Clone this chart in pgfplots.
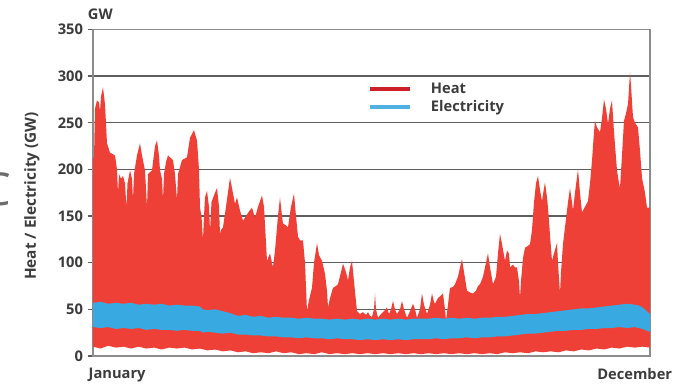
\documentclass[border=0pt]{standalone}
\usepackage{pgfplots}
\pgfplotsset{compat=1.18}
\usepackage{pgfplotstable}
\usepgfplotslibrary{fillbetween}
\usepackage{fontspec}
\setmainfont{Open Sans}
\definecolor{heat}{RGB}{238,64,54}
\definecolor{heatdark}{RGB}{205,32,40}
\definecolor{elec}{RGB}{57,170,225}
\definecolor{elecleg}{RGB}{80,178,226}
\definecolor{txt}{RGB}{60,60,60}
\definecolor{gridc}{RGB}{95,95,95}
\definecolor{axc}{RGB}{140,140,140}

\pgfplotstableread{
day val
0 212
0.66 213
1.31 265
2.62 274
3.93 272
4.59 262
5.24 278
6.55 288
7.86 270
9.17 228
11.14 218
14.42 215
15.73 200
16.38 174
17.04 195
18.35 190
19.66 193
20.97 185
21.95 159
22.61 185
24.25 199
25.56 190
26.21 167
26.87 195
28.83 215
30.80 228
32.11 215
34.08 199
35.39 159
36.04 195
38.66 199
40.63 225
41.94 231
43.25 215
43.91 199
45.22 190
45.87 167
46.53 195
47.84 208
49.15 215
51.11 212
52.42 210
53.73 195
55.05 167
55.70 195
58.32 210
61.60 213
63.56 234
66.19 242
68.15 231
69.46 200
70.12 159
71.10 150
72.08 124
72.74 150
73.39 170
74.70 177
76.01 160
76.67 134
77.65 165
79.95 175
81.26 180
82.57 160
83.22 131
83.88 135
85.19 138
87.15 160
89.78 191
91.09 180
93.05 163
94.36 170
96.33 156
98.30 145
100.26 150
102.23 155
104.19 159
106.16 148
108.12 160
110.75 172
112.06 160
114.02 102
115.99 110
117.95 95
119.26 113
121.23 150
122.54 170
123.85 150
124.51 142
126.47 140
127.78 138
129.75 160
131.72 174
133.03 150
134.34 128
135.65 124
137.61 124
138.92 100
140.23 48
141.55 60
143.51 73
144.82 100
146.79 121
148.10 108
150.06 102
152.03 88
153.34 70
154.00 52
155.31 62
157.28 73
159.24 75
160.55 77
162.52 90
163.83 99
165.79 90
167.10 81
168.41 95
169.72 102
171.03 80
173.00 48
174.97 45
176.93 47
178.90 44
180.21 47
181.52 43
182.83 42
184.14 50
184.80 67
185.45 50
186.76 41
188.73 45
190.69 48
192.66 52
193.97 45
195.28 50
196.59 59
197.90 50
199.21 45
201.18 50
202.49 59
203.80 50
205.76 41
207.73 48
209.70 56
211.01 50
212.32 41
214.28 50
215.59 67
216.90 55
218.87 45
220.84 55
222.15 67
223.46 58
224.11 56
226.08 62
228.04 65
229.36 67
230.67 50
231.32 38
232.63 55
233.94 73
235.91 74
237.22 77
239.18 85
240.50 95
241.81 104
243.12 90
245.08 70
247.05 68
249.01 67
250.98 70
252.29 75
253.60 77
255.57 85
257.53 100
258.84 110
260.16 95
262.12 77
264.09 85
265.40 110
266.71 131
268.02 120
269.98 102
271.29 113
272.60 110
273.26 95
275.23 98
276.54 95
277.85 95
279.16 80
279.81 62
280.47 80
281.78 105
283.09 116
285.06 118
286.37 120
287.68 135
288.99 165
290.30 185
291.61 193
292.92 178
294.23 166
295.54 180
296.20 186
297.51 170
298.16 159
299.47 130
300.78 102
302.09 110
304.06 121
304.71 100
306.02 67
306.68 90
307.99 120
309.30 138
311.27 165
312.58 180
313.89 165
314.54 156
315.85 175
317.82 200
319.13 175
320.44 154
321.75 158
324.37 166
325.68 185
326.99 209
328.30 240
328.96 252
330.27 245
332.24 240
333.55 255
334.86 275
336.17 265
337.48 249
338.79 265
340.10 274
341.41 240
343.38 199
344.69 185
345.34 180
346.65 215
347.96 252
349.27 260
350.59 270
351.90 304
352.55 290
353.86 256
355.17 250
357.14 245
358.45 220
359.76 191
361.73 175
363.04 159
365.0 159
}\heatup

\pgfplotstableread{
day val
0 10
5 8
10 11
15 9
20 10
25 8
30 10
35 8
40 9
45 7
50 9
55 8
60 9
65 7
70 8
75 6
80 7
85 5
90 6
95 4
100 5
105 3
110 4
115 3
120 5
125 3
130 4
135 2
140 3
145 2
150 4
155 2
160 3
165 2
170 3
175 2
180 3
185 2
190 3
195 2
200 3
205 2
210 3
215 2
220 3
225 2
230 3
235 2
240 3
245 2
250 3
255 2
260 3
265 2
270 4
275 3
280 4
285 3
290 5
295 4
300 5
305 4
310 6
315 5
320 7
325 6
330 8
335 7
340 9
345 8
350 10
355 9
360 10
365 9
}\heatlow

\pgfplotstableread{
day val
0 57
5 58
10 56
15 57
20 56
25 57
30 55
35 56
40 55
45 56
50 54
55 55
60 54
65 54
70 53
72 50
75 49
80 50
85 48
90 46
93 44
95 43
100 44
105 42
110 43
115 41
120 42
125 41
130 41
135 40
140 41
145 40
150 40
155 39
160 40
165 39
170 40
175 39
180 40
185 39
190 40
195 39
200 40
205 39
210 40
215 40
220 40
225 41
230 40
235 41
240 40
245 41
250 40
255 41
260 41
265 42
270 42
275 43
280 44
285 45
290 45
295 46
300 47
305 48
310 49
315 50
320 51
325 51
330 52
335 53
340 54
345 55
350 56
355 55
358 54
361 51
363 48
365 45
}\elecup

\pgfplotstableread{
day val
0 31
5 30
10 31
15 29
20 30
25 29
30 30
35 28
40 29
45 28
50 28
55 27
60 28
65 27
70 27
72 25
75 26
80 25
85 24
90 25
95 23
100 23
105 22
110 22
115 21
120 21
125 20
130 20
135 19
140 20
145 19
150 19
155 18
160 19
165 18
170 18
175 17
180 18
185 17
190 18
195 17
200 18
205 17
210 18
215 18
220 18
225 19
230 18
235 19
240 19
245 20
250 19
255 20
260 20
265 21
270 21
275 22
280 23
285 24
290 24
295 25
300 26
305 27
310 27
315 28
320 28
325 29
330 29
335 30
340 30
345 31
350 30
355 31
360 29
363 27
365 26
}\eleclow

\begin{document}
\begin{tikzpicture}
\begin{axis}[
  at={(0,0)}, anchor=south west, scale only axis,
  width=417.75pt, height=244.9pt,
  xmin=0, xmax=365, ymin=0, ymax=350,
  ytick={0,50,...,350},
  xtick={15.8,355}, xticklabels={January,December},
  major x tick style={draw=none},
  ytick pos=left, xtick pos=bottom,
  ymajorgrids,
  grid style={gridc, line width=1.1pt},
  axis line style={axc, line width=1.1pt},
  major y tick style={gridc, line width=1.1pt},
  tick align=outside, major tick length=4pt,
  ticklabel style={font=\bfseries\fontsize{11}{13}\selectfont, text=txt},
  xticklabel style={yshift=-1.5pt},
  /pgf/number format/assume math mode=true,
  legend style={draw=none, fill=none, at={(rel axis cs:0.4937,0.79)}, anchor=west,
    inner sep=0pt, font=\bfseries\fontsize{11}{13}\selectfont, text=txt,
    row sep=0pt, /tikz/every odd column/.append style={column sep=12pt}},
  legend cell align=left,
  legend image code/.code={\draw[#1] (0pt,0pt) -- (30pt,0pt);},
]
\addplot[name path=hu, draw=none, forget plot] table[x=day,y=val]{\heatup};
\addplot[name path=hl, draw=none, forget plot] table[x=day,y=val]{\heatlow};
\addplot[fill=heat, draw=none, forget plot] fill between[of=hu and hl];
\addplot[name path=eu, draw=none, forget plot] table[x=day,y=val]{\elecup};
\addplot[name path=el, draw=none, forget plot] table[x=day,y=val]{\eleclow};
\addplot[fill=elec, draw=none, forget plot] fill between[of=eu and el];
\addlegendimage{line width=3pt, heatdark}
\addlegendentry{Heat}
\addlegendimage{line width=3pt, elecleg}
\addlegendentry{Electricity}
\end{axis}
\node[anchor=base west, inner sep=0pt, font=\bfseries\fontsize{11}{13}\selectfont, text=txt] at (-4pt,252pt) {GW};
\node[rotate=90, inner sep=0pt, font=\bfseries\fontsize{11.5}{13}\selectfont, text=txt] at (-45.75pt,120pt) {Heat / Electricity (GW)};
\node[overlay, text=gray!85!black, font=\fontsize{34}{34}\selectfont, anchor=east, inner sep=0pt] at (-61pt,125pt) {C};
\path (-69.75pt,-20.25pt) rectangle (450.75pt,267pt);
\end{tikzpicture}
\end{document}
